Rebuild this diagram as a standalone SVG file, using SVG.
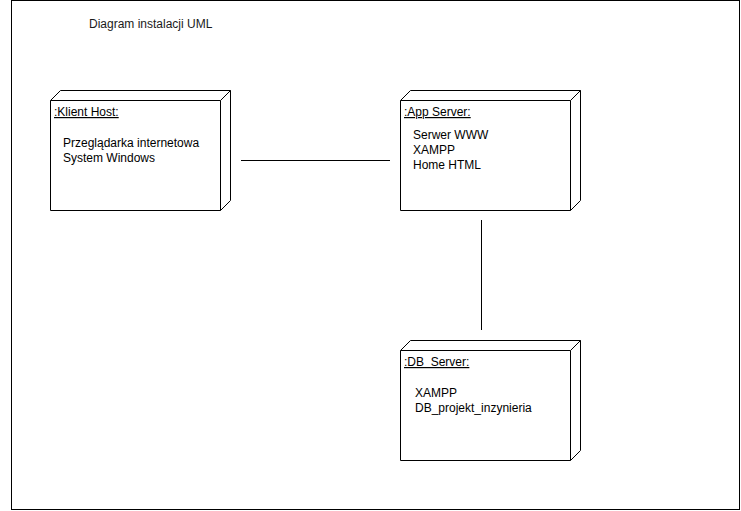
<svg xmlns="http://www.w3.org/2000/svg" width="741" height="511" viewBox="0 0 741 511">
  <style>
    .frame { fill: #ffffff; stroke: #000000; stroke-width: 1; }
    .node { fill: #ffffff; stroke: #000000; stroke-width: 1; }
    .link { fill: none; stroke: #000000; stroke-width: 1; }
    text { font-family: "Liberation Sans", Arial, Helvetica, sans-serif; font-size: 12px; fill: #000000; }
    .title { fill: #1a1a1a; }
    .name { text-decoration: underline; }
  </style>
  <rect x="0" y="0" width="741" height="511" fill="#ffffff"/>
  <rect class="frame" x="11.5" y="0.5" width="728" height="509"/>
  <text class="title" x="89" y="28">Diagram instalacji UML</text>

  <g id="connectors">
    <line class="link" x1="241" y1="160.5" x2="390" y2="160.5"/>
    <line class="link" x1="481.5" y1="220" x2="481.5" y2="330"/>
  </g>

  <g id="klient-host">
    <path class="node" d="M50.5 100.5 L60.5 90.5 L230.5 90.5 L230.5 200.5 L220.5 210.5 L50.5 210.5 Z"/>
    <path class="link" d="M50.5 100.5 L220.5 100.5 L230.5 90.5 M220.5 100.5 L220.5 210.5"/>
    <text class="name" x="54" y="116">:Klient Host:</text>
    <text x="63" y="147">Przeglądarka internetowa</text>
    <text x="63" y="162">System Windows</text>
  </g>

  <g id="app-server">
    <path class="node" d="M400.5 100.5 L410.5 90.5 L580.5 90.5 L580.5 200.5 L570.5 210.5 L400.5 210.5 Z"/>
    <path class="link" d="M400.5 100.5 L570.5 100.5 L580.5 90.5 M570.5 100.5 L570.5 210.5"/>
    <text class="name" x="404" y="116">:App Server:</text>
    <text x="413" y="139">Serwer WWW</text>
    <text x="413" y="154">XAMPP</text>
    <text x="413" y="169">Home HTML</text>
  </g>

  <g id="db-server">
    <path class="node" d="M400.5 350.5 L410.5 340.5 L580.5 340.5 L580.5 450.5 L570.5 460.5 L400.5 460.5 Z"/>
    <path class="link" d="M400.5 350.5 L570.5 350.5 L580.5 340.5 M570.5 350.5 L570.5 460.5"/>
    <text class="name" x="404" y="366" xml:space="preserve">:DB  Server:</text>
    <text x="415" y="397">XAMPP</text>
    <text x="415" y="412">DB_projekt_inzynieria</text>
  </g>
</svg>
